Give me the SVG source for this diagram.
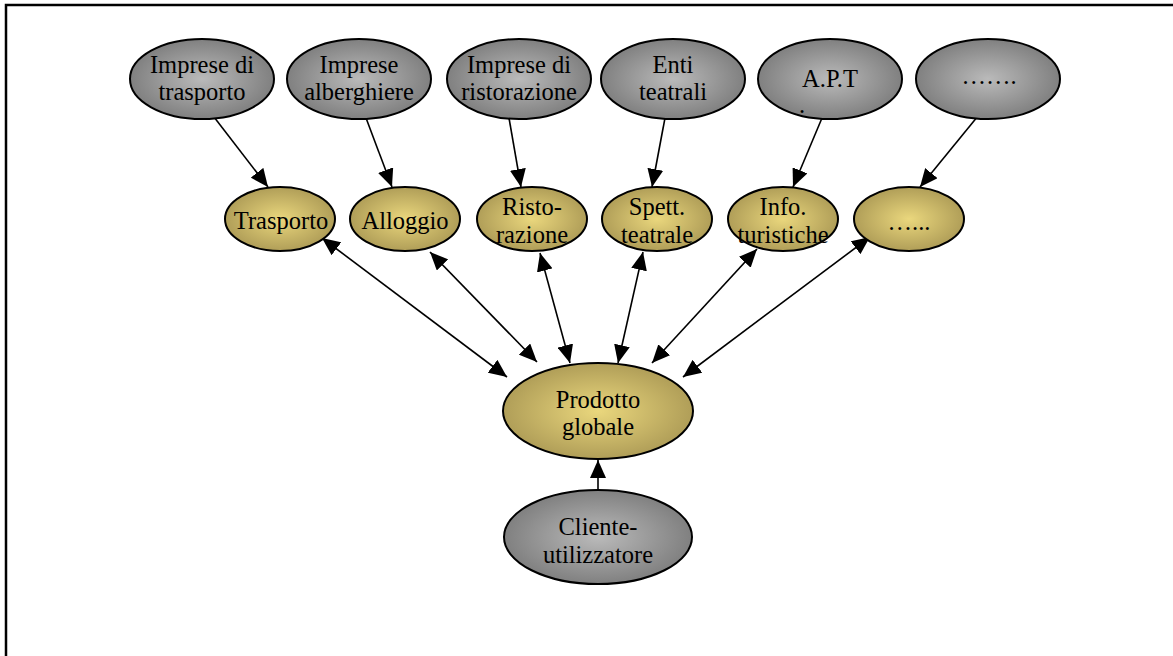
<svg xmlns="http://www.w3.org/2000/svg" width="1173" height="656" viewBox="0 0 1173 656">
  <style>
    .grey { fill: url(#greyFill); stroke: #000; stroke-width: 2; }
    .gold { fill: url(#goldFill); stroke: #000; stroke-width: 2; }
    .label { font-family: "Liberation Serif", "Times New Roman", serif; font-size: 24.5px; fill: #000; text-anchor: middle; }
    .link { stroke: #000; stroke-width: 1.6; fill: none; }
    .one { marker-end: url(#head); }
    .two { marker-start: url(#head); marker-end: url(#head); }
    .frame { stroke: #000; stroke-width: 2.5; fill: none; }
  </style>
  <defs>
    <radialGradient id="greyFill" cx="50%" cy="50%" r="50%">
      <stop offset="0" stop-color="#bababa"/>
      <stop offset="1" stop-color="#808080"/>
    </radialGradient>
    <radialGradient id="goldFill" cx="50%" cy="50%" r="50%">
      <stop offset="0" stop-color="#ead77d"/>
      <stop offset="1" stop-color="#b09e58"/>
    </radialGradient>
    <marker id="head" viewBox="0 0 18 16" refX="18" refY="8" markerWidth="18" markerHeight="16" markerUnits="userSpaceOnUse" orient="auto-start-reverse">
      <path d="M0,0 L18,8 L0,16 z" fill="#000"/>
    </marker>
  </defs>

  <rect width="1173" height="656" fill="#fff"/>
  <path class="frame" d="M6,656 V5 H1173"/>

  <!-- connectors -->
  <g id="connectors">
    <line class="link one" x1="214" y1="117" x2="268" y2="187"/>
    <line class="link one" x1="366" y1="118" x2="392" y2="187"/>
    <line class="link one" x1="509" y1="118" x2="521" y2="187"/>
    <line class="link one" x1="665" y1="118" x2="652" y2="187"/>
    <line class="link one" x1="822" y1="118" x2="793" y2="187"/>
    <line class="link one" x1="978" y1="116" x2="920" y2="187"/>

    <line class="link two" x1="322" y1="238" x2="507" y2="377"/>
    <line class="link two" x1="430" y1="252" x2="537" y2="362"/>
    <line class="link two" x1="540" y1="253" x2="570" y2="363"/>
    <line class="link two" x1="643" y1="252" x2="618" y2="363"/>
    <line class="link two" x1="757" y1="249" x2="652" y2="363"/>
    <line class="link two" x1="870" y1="237" x2="683" y2="377"/>

    <line class="link one" x1="598" y1="490" x2="598" y2="460"/>
  </g>

  <!-- providers -->
  <g id="imprese-trasporto">
    <ellipse class="grey" cx="202" cy="79" rx="72" ry="40"/>
    <text class="label" x="202" y="73">Imprese di</text>
    <text class="label" x="202" y="100">trasporto</text>
  </g>
  <g id="imprese-alberghiere">
    <ellipse class="grey" cx="359" cy="79" rx="72" ry="40"/>
    <text class="label" x="359" y="73">Imprese</text>
    <text class="label" x="359" y="100">alberghiere</text>
  </g>
  <g id="imprese-ristorazione">
    <ellipse class="grey" cx="519" cy="79" rx="72" ry="40"/>
    <text class="label" x="519" y="73">Imprese di</text>
    <text class="label" x="519" y="100">ristorazione</text>
  </g>
  <g id="enti-teatrali">
    <ellipse class="grey" cx="673" cy="79" rx="72" ry="40"/>
    <text class="label" x="673" y="73">Enti</text>
    <text class="label" x="673" y="100">teatrali</text>
  </g>
  <g id="apt">
    <ellipse class="grey" cx="830" cy="79" rx="72" ry="40"/>
    <text class="label" x="830" y="87">A.P.T</text>
    <text class="label" x="802" y="113">.</text>
  </g>
  <g id="altri-enti">
    <ellipse class="grey" cx="988" cy="79" rx="72" ry="40"/>
    <text class="label" x="989" y="84">…….</text>
  </g>

  <!-- services -->
  <g id="trasporto">
    <ellipse class="gold" cx="280" cy="219" rx="55" ry="32"/>
    <text class="label" x="281" y="229">Trasporto</text>
  </g>
  <g id="alloggio">
    <ellipse class="gold" cx="405" cy="219" rx="55" ry="32"/>
    <text class="label" x="405" y="229">Alloggio</text>
  </g>
  <g id="ristorazione">
    <ellipse class="gold" cx="532" cy="219" rx="55" ry="32"/>
    <text class="label" x="532" y="215">Risto-</text>
    <text class="label" x="532" y="243">razione</text>
  </g>
  <g id="spettacolo">
    <ellipse class="gold" cx="657" cy="219" rx="55" ry="32"/>
    <text class="label" x="657" y="215">Spett.</text>
    <text class="label" x="657" y="243">teatrale</text>
  </g>
  <g id="info">
    <ellipse class="gold" cx="783" cy="219" rx="55" ry="32"/>
    <text class="label" x="783" y="215">Info.</text>
    <text class="label" x="783" y="243">turistiche</text>
  </g>
  <g id="altri-servizi">
    <ellipse class="gold" cx="909" cy="219" rx="55" ry="32"/>
    <text class="label" x="909" y="230">…...</text>
  </g>

  <!-- global product and client -->
  <g id="prodotto-globale">
    <ellipse class="gold" cx="598" cy="411" rx="95" ry="48"/>
    <text class="label" x="598" y="408">Prodotto</text>
    <text class="label" x="598" y="435">globale</text>
  </g>
  <g id="cliente">
    <ellipse class="grey" cx="598" cy="537" rx="94" ry="47"/>
    <text class="label" x="598" y="535">Cliente-</text>
    <text class="label" x="598" y="563">utilizzatore</text>
  </g>
</svg>
